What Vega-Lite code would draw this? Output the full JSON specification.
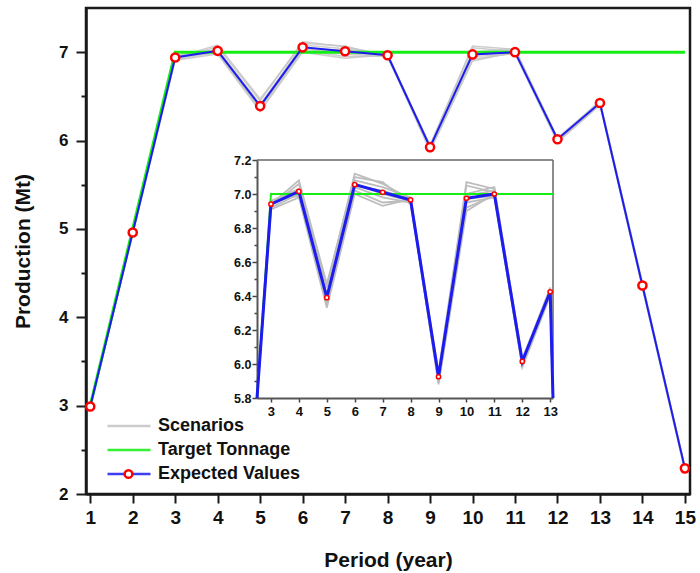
{
  "$schema": "https://vega.github.io/schema/vega-lite/v6.json",
  "background": "white",
  "padding": {"left": 12, "top": 8, "right": 5, "bottom": 5},
  "width": 604,
  "height": 486,
  "view": {"stroke": "#1a1a1a", "strokeWidth": 2.5},
  "config": {
    "font": "Liberation Sans",
    "axis": {
      "labelFont": "Liberation Sans",
      "titleFont": "Liberation Sans",
      "labelFontWeight": "bold",
      "titleFontWeight": "bold",
      "labelColor": "#111111",
      "titleColor": "#111111",
      "grid": false
    },
    "legend": {"labelFont": "Liberation Sans"}
  },
  "datasets": {
    "prod": [
      {"period": 1, "value": 2.99, "series": "Expected Values", "run": "expected"},
      {"period": 2, "value": 4.96, "series": "Expected Values", "run": "expected"},
      {"period": 3, "value": 6.94, "series": "Expected Values", "run": "expected"},
      {"period": 4, "value": 7.015, "series": "Expected Values", "run": "expected"},
      {"period": 5, "value": 6.39, "series": "Expected Values", "run": "expected"},
      {"period": 6, "value": 7.055, "series": "Expected Values", "run": "expected"},
      {"period": 7, "value": 7.01, "series": "Expected Values", "run": "expected"},
      {"period": 8, "value": 6.965, "series": "Expected Values", "run": "expected"},
      {"period": 9, "value": 5.925, "series": "Expected Values", "run": "expected"},
      {"period": 10, "value": 6.975, "series": "Expected Values", "run": "expected"},
      {"period": 11, "value": 7.0, "series": "Expected Values", "run": "expected"},
      {"period": 12, "value": 6.015, "series": "Expected Values", "run": "expected"},
      {"period": 13, "value": 6.425, "series": "Expected Values", "run": "expected"},
      {"period": 14, "value": 4.36, "series": "Expected Values", "run": "expected"},
      {"period": 15, "value": 2.29, "series": "Expected Values", "run": "expected"},

      {"period": 1, "value": 3.0, "series": "Target Tonnage", "run": "target"},
      {"period": 2, "value": 5.0, "series": "Target Tonnage", "run": "target"},
      {"period": 3, "value": 7.0, "series": "Target Tonnage", "run": "target"},
      {"period": 4, "value": 7.0, "series": "Target Tonnage", "run": "target"},
      {"period": 5, "value": 7.0, "series": "Target Tonnage", "run": "target"},
      {"period": 6, "value": 7.0, "series": "Target Tonnage", "run": "target"},
      {"period": 7, "value": 7.0, "series": "Target Tonnage", "run": "target"},
      {"period": 8, "value": 7.0, "series": "Target Tonnage", "run": "target"},
      {"period": 9, "value": 7.0, "series": "Target Tonnage", "run": "target"},
      {"period": 10, "value": 7.0, "series": "Target Tonnage", "run": "target"},
      {"period": 11, "value": 7.0, "series": "Target Tonnage", "run": "target"},
      {"period": 12, "value": 7.0, "series": "Target Tonnage", "run": "target"},
      {"period": 13, "value": 7.0, "series": "Target Tonnage", "run": "target"},
      {"period": 14, "value": 7.0, "series": "Target Tonnage", "run": "target"},
      {"period": 15, "value": 7.0, "series": "Target Tonnage", "run": "target"},

      {"period": 1, "value": 2.98, "series": "Scenarios", "run": "s1"},
      {"period": 2, "value": 4.94, "series": "Scenarios", "run": "s1"},
      {"period": 3, "value": 6.93, "series": "Scenarios", "run": "s1"},
      {"period": 4, "value": 7.06, "series": "Scenarios", "run": "s1"},
      {"period": 5, "value": 6.45, "series": "Scenarios", "run": "s1"},
      {"period": 6, "value": 7.12, "series": "Scenarios", "run": "s1"},
      {"period": 7, "value": 7.06, "series": "Scenarios", "run": "s1"},
      {"period": 8, "value": 6.97, "series": "Scenarios", "run": "s1"},
      {"period": 9, "value": 5.95, "series": "Scenarios", "run": "s1"},
      {"period": 10, "value": 7.07, "series": "Scenarios", "run": "s1"},
      {"period": 11, "value": 7.03, "series": "Scenarios", "run": "s1"},
      {"period": 12, "value": 6.03, "series": "Scenarios", "run": "s1"},
      {"period": 13, "value": 6.44, "series": "Scenarios", "run": "s1"},
      {"period": 14, "value": 4.38, "series": "Scenarios", "run": "s1"},
      {"period": 15, "value": 2.31, "series": "Scenarios", "run": "s1"},

      {"period": 1, "value": 3.0, "series": "Scenarios", "run": "s2"},
      {"period": 2, "value": 4.97, "series": "Scenarios", "run": "s2"},
      {"period": 3, "value": 6.95, "series": "Scenarios", "run": "s2"},
      {"period": 4, "value": 6.99, "series": "Scenarios", "run": "s2"},
      {"period": 5, "value": 6.35, "series": "Scenarios", "run": "s2"},
      {"period": 6, "value": 7.02, "series": "Scenarios", "run": "s2"},
      {"period": 7, "value": 6.95, "series": "Scenarios", "run": "s2"},
      {"period": 8, "value": 6.96, "series": "Scenarios", "run": "s2"},
      {"period": 9, "value": 5.89, "series": "Scenarios", "run": "s2"},
      {"period": 10, "value": 6.92, "series": "Scenarios", "run": "s2"},
      {"period": 11, "value": 6.99, "series": "Scenarios", "run": "s2"},
      {"period": 12, "value": 5.99, "series": "Scenarios", "run": "s2"},
      {"period": 13, "value": 6.41, "series": "Scenarios", "run": "s2"},
      {"period": 14, "value": 4.34, "series": "Scenarios", "run": "s2"},
      {"period": 15, "value": 2.27, "series": "Scenarios", "run": "s2"},

      {"period": 1, "value": 2.99, "series": "Scenarios", "run": "s3"},
      {"period": 2, "value": 4.96, "series": "Scenarios", "run": "s3"},
      {"period": 3, "value": 6.96, "series": "Scenarios", "run": "s3"},
      {"period": 4, "value": 7.03, "series": "Scenarios", "run": "s3"},
      {"period": 5, "value": 6.41, "series": "Scenarios", "run": "s3"},
      {"period": 6, "value": 7.08, "series": "Scenarios", "run": "s3"},
      {"period": 7, "value": 7.04, "series": "Scenarios", "run": "s3"},
      {"period": 8, "value": 6.98, "series": "Scenarios", "run": "s3"},
      {"period": 9, "value": 5.93, "series": "Scenarios", "run": "s3"},
      {"period": 10, "value": 7.0, "series": "Scenarios", "run": "s3"},
      {"period": 11, "value": 7.04, "series": "Scenarios", "run": "s3"},
      {"period": 12, "value": 6.02, "series": "Scenarios", "run": "s3"},
      {"period": 13, "value": 6.43, "series": "Scenarios", "run": "s3"},
      {"period": 14, "value": 4.37, "series": "Scenarios", "run": "s3"},
      {"period": 15, "value": 2.3, "series": "Scenarios", "run": "s3"},

      {"period": 1, "value": 2.97, "series": "Scenarios", "run": "s4"},
      {"period": 2, "value": 4.95, "series": "Scenarios", "run": "s4"},
      {"period": 3, "value": 6.92, "series": "Scenarios", "run": "s4"},
      {"period": 4, "value": 7.0, "series": "Scenarios", "run": "s4"},
      {"period": 5, "value": 6.37, "series": "Scenarios", "run": "s4"},
      {"period": 6, "value": 7.04, "series": "Scenarios", "run": "s4"},
      {"period": 7, "value": 6.98, "series": "Scenarios", "run": "s4"},
      {"period": 8, "value": 6.95, "series": "Scenarios", "run": "s4"},
      {"period": 9, "value": 5.91, "series": "Scenarios", "run": "s4"},
      {"period": 10, "value": 6.95, "series": "Scenarios", "run": "s4"},
      {"period": 11, "value": 6.98, "series": "Scenarios", "run": "s4"},
      {"period": 12, "value": 6.0, "series": "Scenarios", "run": "s4"},
      {"period": 13, "value": 6.42, "series": "Scenarios", "run": "s4"},
      {"period": 14, "value": 4.35, "series": "Scenarios", "run": "s4"},
      {"period": 15, "value": 2.28, "series": "Scenarios", "run": "s4"},

      {"period": 1, "value": 2.99, "series": "Scenarios", "run": "s5"},
      {"period": 2, "value": 4.98, "series": "Scenarios", "run": "s5"},
      {"period": 3, "value": 6.94, "series": "Scenarios", "run": "s5"},
      {"period": 4, "value": 7.08, "series": "Scenarios", "run": "s5"},
      {"period": 5, "value": 6.47, "series": "Scenarios", "run": "s5"},
      {"period": 6, "value": 7.1, "series": "Scenarios", "run": "s5"},
      {"period": 7, "value": 7.07, "series": "Scenarios", "run": "s5"},
      {"period": 8, "value": 6.94, "series": "Scenarios", "run": "s5"},
      {"period": 9, "value": 5.94, "series": "Scenarios", "run": "s5"},
      {"period": 10, "value": 7.05, "series": "Scenarios", "run": "s5"},
      {"period": 11, "value": 7.01, "series": "Scenarios", "run": "s5"},
      {"period": 12, "value": 6.02, "series": "Scenarios", "run": "s5"},
      {"period": 13, "value": 6.45, "series": "Scenarios", "run": "s5"},
      {"period": 14, "value": 4.39, "series": "Scenarios", "run": "s5"},
      {"period": 15, "value": 2.29, "series": "Scenarios", "run": "s5"},

      {"period": 1, "value": 3.0, "series": "Scenarios", "run": "s6"},
      {"period": 2, "value": 4.95, "series": "Scenarios", "run": "s6"},
      {"period": 3, "value": 6.91, "series": "Scenarios", "run": "s6"},
      {"period": 4, "value": 6.98, "series": "Scenarios", "run": "s6"},
      {"period": 5, "value": 6.33, "series": "Scenarios", "run": "s6"},
      {"period": 6, "value": 7.0, "series": "Scenarios", "run": "s6"},
      {"period": 7, "value": 6.93, "series": "Scenarios", "run": "s6"},
      {"period": 8, "value": 6.97, "series": "Scenarios", "run": "s6"},
      {"period": 9, "value": 5.88, "series": "Scenarios", "run": "s6"},
      {"period": 10, "value": 6.9, "series": "Scenarios", "run": "s6"},
      {"period": 11, "value": 7.0, "series": "Scenarios", "run": "s6"},
      {"period": 12, "value": 5.98, "series": "Scenarios", "run": "s6"},
      {"period": 13, "value": 6.4, "series": "Scenarios", "run": "s6"},
      {"period": 14, "value": 4.33, "series": "Scenarios", "run": "s6"},
      {"period": 15, "value": 2.26, "series": "Scenarios", "run": "s6"},

      {"period": 1, "value": 2.98, "series": "Scenarios", "run": "s7"},
      {"period": 2, "value": 4.97, "series": "Scenarios", "run": "s7"},
      {"period": 3, "value": 6.95, "series": "Scenarios", "run": "s7"},
      {"period": 4, "value": 7.02, "series": "Scenarios", "run": "s7"},
      {"period": 5, "value": 6.4, "series": "Scenarios", "run": "s7"},
      {"period": 6, "value": 7.06, "series": "Scenarios", "run": "s7"},
      {"period": 7, "value": 7.0, "series": "Scenarios", "run": "s7"},
      {"period": 8, "value": 6.96, "series": "Scenarios", "run": "s7"},
      {"period": 9, "value": 5.92, "series": "Scenarios", "run": "s7"},
      {"period": 10, "value": 6.99, "series": "Scenarios", "run": "s7"},
      {"period": 11, "value": 7.02, "series": "Scenarios", "run": "s7"},
      {"period": 12, "value": 6.01, "series": "Scenarios", "run": "s7"},
      {"period": 13, "value": 6.43, "series": "Scenarios", "run": "s7"},
      {"period": 14, "value": 4.36, "series": "Scenarios", "run": "s7"},
      {"period": 15, "value": 2.3, "series": "Scenarios", "run": "s7"},

      {"period": 1, "value": 2.99, "series": "Scenarios", "run": "s8"},
      {"period": 2, "value": 4.96, "series": "Scenarios", "run": "s8"},
      {"period": 3, "value": 6.94, "series": "Scenarios", "run": "s8"},
      {"period": 4, "value": 7.01, "series": "Scenarios", "run": "s8"},
      {"period": 5, "value": 6.38, "series": "Scenarios", "run": "s8"},
      {"period": 6, "value": 7.05, "series": "Scenarios", "run": "s8"},
      {"period": 7, "value": 7.02, "series": "Scenarios", "run": "s8"},
      {"period": 8, "value": 6.97, "series": "Scenarios", "run": "s8"},
      {"period": 9, "value": 5.93, "series": "Scenarios", "run": "s8"},
      {"period": 10, "value": 6.97, "series": "Scenarios", "run": "s8"},
      {"period": 11, "value": 6.99, "series": "Scenarios", "run": "s8"},
      {"period": 12, "value": 6.02, "series": "Scenarios", "run": "s8"},
      {"period": 13, "value": 6.42, "series": "Scenarios", "run": "s8"},
      {"period": 14, "value": 4.36, "series": "Scenarios", "run": "s8"},
      {"period": 15, "value": 2.29, "series": "Scenarios", "run": "s8"}
    ]
  },
  "data": {"name": "prod"},
  "layer": [
    {
      "encoding": {
        "x": {
          "field": "period",
          "type": "quantitative",
          "scale": {"domain": [0.9, 15.12], "nice": false, "zero": false},
          "axis": {
            "orient": "bottom",
            "values": [1, 2, 3, 4, 5, 6, 7, 8, 9, 10, 11, 12, 13, 14, 15],
            "tickSize": 9,
            "tickWidth": 2,
            "tickColor": "#1a1a1a",
            "domainColor": "#1a1a1a",
            "domainWidth": 2.5,
            "labelFontSize": 19,
            "labelPadding": 5,
            "title": "Period (year)",
            "titleFontSize": 21,
            "titlePadding": 22
          }
        },
        "y": {
          "field": "value",
          "type": "quantitative",
          "scale": {"domain": [2, 7.5], "nice": false, "zero": false},
          "axis": {
            "orient": "left",
            "values": [2, 2.5, 3, 3.5, 4, 4.5, 5, 5.5, 6, 6.5, 7],
            "format": "~g",
            "labelExpr": "datum.value % 1 === 0 ? datum.label : ''",
            "tickSize": {"condition": {"test": "datum.value % 1 === 0", "value": 10}, "value": 5},
            "tickWidth": 2,
            "tickColor": "#1a1a1a",
            "domainColor": "#1a1a1a",
            "domainWidth": 2.5,
            "labelFontSize": 17,
            "labelPadding": 8,
            "title": "Production (Mt)",
            "titleFontSize": 21,
            "titlePadding": 25
          }
        }
      },
      "layer": [
        {
          "transform": [{"filter": "datum.series === 'Scenarios'"}],
          "mark": {"type": "line", "strokeWidth": 1.5, "opacity": 0.85},
          "encoding": {
            "detail": {"field": "run", "type": "nominal"},
            "stroke": {
              "field": "series",
              "type": "nominal",
              "scale": {
                "domain": ["Scenarios", "Target Tonnage", "Expected Values"],
                "range": ["#c4c4c4", "#14ee14", "#1c1cf0"]
              },
              "legend": {
                "orient": "none",
                "legendX": 20,
                "legendY": 409,
                "title": null,
                "symbolType": "stroke",
                "symbolSize": 1849,
                "symbolStrokeWidth": 2.5,
                "clipHeight": 18,
                "rowPadding": 6,
                "padding": 0,
                "labelFontSize": 18,
                "labelFontWeight": "bold",
                "labelColor": "#111111",
                "labelOffset": 6
              }
            }
          }
        },
        {
          "transform": [{"filter": "datum.series === 'Target Tonnage'"}],
          "mark": {"type": "line", "strokeWidth": 3},
          "encoding": {"stroke": {"field": "series", "type": "nominal"}}
        },
        {
          "transform": [{"filter": "datum.series === 'Expected Values'"}],
          "mark": {"type": "line", "strokeWidth": 2},
          "encoding": {"stroke": {"field": "series", "type": "nominal"}}
        },
        {
          "transform": [{"filter": "datum.series === 'Expected Values'"}],
          "mark": {
            "type": "point",
            "shape": "circle",
            "filled": false,
            "color": "#ff0000",
            "fill": "white",
            "strokeWidth": 2.5,
            "size": 66,
            "opacity": 1
          },
          "encoding": {
            "shape": {
              "field": "series",
              "type": "nominal",
              "scale": {"domain": ["Expected Values"], "range": ["circle"]},
              "legend": {
                "orient": "none",
                "legendX": 37,
                "legendY": 457,
                "title": null,
                "clipHeight": 18,
                "padding": 0,
                "symbolSize": 60,
                "symbolStrokeWidth": 2.5,
                "symbolFillColor": "white",
                "symbolOpacity": 1,
                "labelExpr": "''"
              }
            }
          }
        }
      ]
    },
    {
      "encoding": {
        "x": {
          "field": "period",
          "type": "quantitative",
          "scale": {"domain": [2.5, 13.1], "range": [171, 467], "nice": false, "zero": false, "clamp": true},
          "axis": {
            "orient": "bottom",
            "offset": -96,
            "values": [3, 4, 5, 6, 7, 8, 9, 10, 11, 12, 13],
            "tickSize": 4,
            "tickWidth": 1.5,
            "tickColor": "#444444",
            "domainColor": "#555555",
            "domainWidth": 2,
            "labelFontSize": 13,
            "labelPadding": 3,
            "title": null
          }
        },
        "y": {
          "field": "value",
          "type": "quantitative",
          "scale": {"domain": [5.8, 7.2], "range": [390, 152], "nice": false, "zero": false, "clamp": true},
          "axis": {
            "orient": "left",
            "offset": -171,
            "values": [5.8, 5.9, 6.0, 6.1, 6.2, 6.3, 6.4, 6.5, 6.6, 6.7, 6.8, 6.9, 7.0, 7.1, 7.2],
            "format": ".1f",
            "labelExpr": "round(datum.value * 10) % 2 === 0 ? datum.label : ''",
            "tickSize": {"condition": {"test": "round(datum.value * 10) % 2 === 0", "value": 5}, "value": 3},
            "tickWidth": 1.5,
            "tickColor": "#444444",
            "domainColor": "#555555",
            "domainWidth": 2,
            "labelFontSize": 12.5,
            "labelPadding": 1,
            "title": null
          }
        }
      },
      "layer": [
        {
          "transform": [{"filter": "datum.run === 'expected' && datum.period === 1"}],
          "mark": {"type": "rule", "stroke": "#666666", "strokeWidth": 1.5},
          "encoding": {
            "x": {"datum": 2.5, "type": "quantitative"},
            "x2": {"datum": 13.1},
            "y": {"datum": 7.2, "type": "quantitative"}
          }
        },
        {
          "transform": [{"filter": "datum.run === 'expected' && datum.period === 1"}],
          "mark": {"type": "rule", "stroke": "#666666", "strokeWidth": 1.5},
          "encoding": {
            "x": {"datum": 13.1, "type": "quantitative"},
            "y": {"datum": 5.8, "type": "quantitative"},
            "y2": {"datum": 7.2}
          }
        },
        {
          "transform": [{"filter": "datum.series === 'Scenarios'"}],
          "mark": {"type": "line", "stroke": "#bdbdbd", "strokeWidth": 1.8},
          "encoding": {"detail": {"field": "run", "type": "nominal"}}
        },
        {
          "transform": [{"filter": "datum.series === 'Target Tonnage'"}],
          "mark": {"type": "line", "stroke": "#14ee14", "strokeWidth": 2},
          "encoding": {}
        },
        {
          "transform": [{"filter": "datum.series === 'Expected Values'"}],
          "mark": {"type": "line", "stroke": "#1c1cf0", "strokeWidth": 3},
          "encoding": {}
        },
        {
          "transform": [
            {"filter": "datum.series === 'Expected Values' && datum.period >= 3 && datum.period <= 13"}
          ],
          "mark": {
            "type": "point",
            "shape": "circle",
            "filled": true,
            "fill": "white",
            "stroke": "#ff0000",
            "strokeWidth": 1.5,
            "size": 18,
            "opacity": 1
          },
          "encoding": {}
        }
      ]
    }
  ],
  "resolve": {"scale": {"x": "independent", "y": "independent"}}
}
